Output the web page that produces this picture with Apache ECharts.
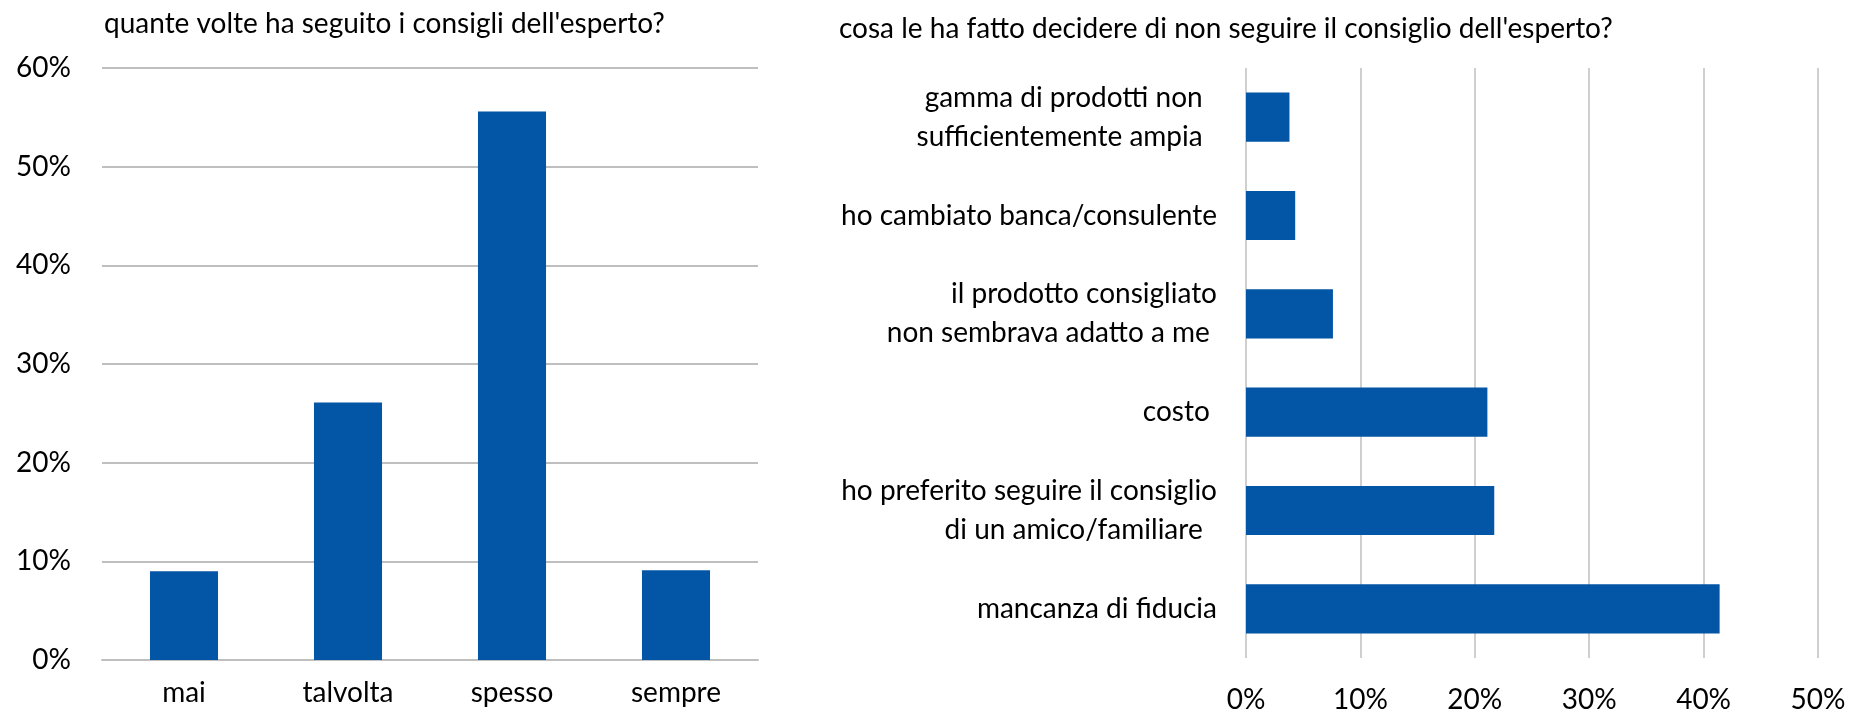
<!DOCTYPE html>
<html><head><meta charset="utf-8">
<script src="https://cdn.jsdelivr.net/npm/echarts@6/dist/echarts.min.js"></script>
<style>html,body{margin:0;padding:0;background:#fff}#c{width:1863px;height:716px}</style>
</head><body><div id="c"></div>
<script>
const leftTitle = "quante volte ha seguito i consigli dell'esperto?";
const rightTitle = "cosa le ha fatto decidere di non seguire il consiglio dell'esperto?";
const freqCategories = ["mai", "talvolta", "spesso", "sempre"];
const freqValues = [9.0, 26.1, 55.6, 9.1];
const freqTicks = [0, 10, 20, 30, 40, 50, 60];
const reasonCategories = [
  "gamma di prodotti non  \nsufficientemente ampia  ",
  "ho cambiato banca/consulente",
  "il prodotto consigliato\nnon sembrava adatto a me ",
  "costo ",
  "ho preferito seguire il consiglio\ndi un amico/familiare  ",
  "mancanza di fiducia"
];
const reasonValues = [3.8, 4.3, 7.6, 21.1, 21.7, 41.4];
const reasonTicks = [0, 10, 20, 30, 40, 50];

const FONT = "Lato, 'Noto Sans', sans-serif";
const FS = 28;
const BLUE = "#0355A5";
const GRID = "#BFBFBF";
const chart = echarts.init(document.getElementById('c'), null, {renderer: 'canvas'});
chart.setOption({
  animation: false,
  textStyle: {fontFamily: FONT},
  title: [
    {text: leftTitle, left: 99, top: 5, textStyle: {fontFamily: FONT, fontSize: FS, fontWeight: 'normal', color: '#000'}},
    {text: rightTitle, left: 834, top: 10, textStyle: {fontFamily: FONT, fontSize: FS, fontWeight: 'normal', color: '#000'}}
  ],
  grid: [
    {left: 102, right: 1105, top: 68, bottom: 56, containLabel: false},
    {left: 1246, right: 45, top: 68, bottom: 58, containLabel: false}
  ],
  xAxis: [
    {gridIndex: 0, type: 'category', data: freqCategories,
     axisLine: {show: true, lineStyle: {color: GRID, width: 2}}, axisTick: {show: false},
     axisLabel: {margin: 19, fontFamily: FONT, fontSize: FS, color: '#000'}},
    {gridIndex: 1, type: 'value', min: reasonTicks[0], max: reasonTicks[reasonTicks.length-1], interval: 10,
     axisLine: {show: false}, axisTick: {show: false},
     splitLine: {show: true, lineStyle: {color: GRID, width: 1.5}},
     axisLabel: {margin: 28, fontFamily: FONT, fontSize: FS, color: '#000', formatter: v => v + '%'}}
  ],
  yAxis: [
    {gridIndex: 0, type: 'value', min: freqTicks[0], max: freqTicks[freqTicks.length-1], interval: 10,
     axisLine: {show: false}, axisTick: {show: false},
     splitLine: {show: true, lineStyle: {color: GRID, width: 2}},
     axisLabel: {margin: 31, fontFamily: FONT, fontSize: FS, color: '#000', formatter: v => v + '%'}},
    {gridIndex: 1, type: 'category', data: reasonCategories, inverse: true,
     axisLine: {show: false}, axisTick: {show: false},
     axisLabel: {margin: 29, fontFamily: FONT, fontSize: FS, color: '#000', lineHeight: 39, align: 'right'}}
  ],
  series: [
    {type: 'bar', xAxisIndex: 0, yAxisIndex: 0, data: freqValues, barWidth: '41.5%', itemStyle: {color: BLUE}},
    {type: 'bar', xAxisIndex: 1, yAxisIndex: 1, data: reasonValues, barWidth: '50%', itemStyle: {color: BLUE}}
  ]
});
</script></body></html>
